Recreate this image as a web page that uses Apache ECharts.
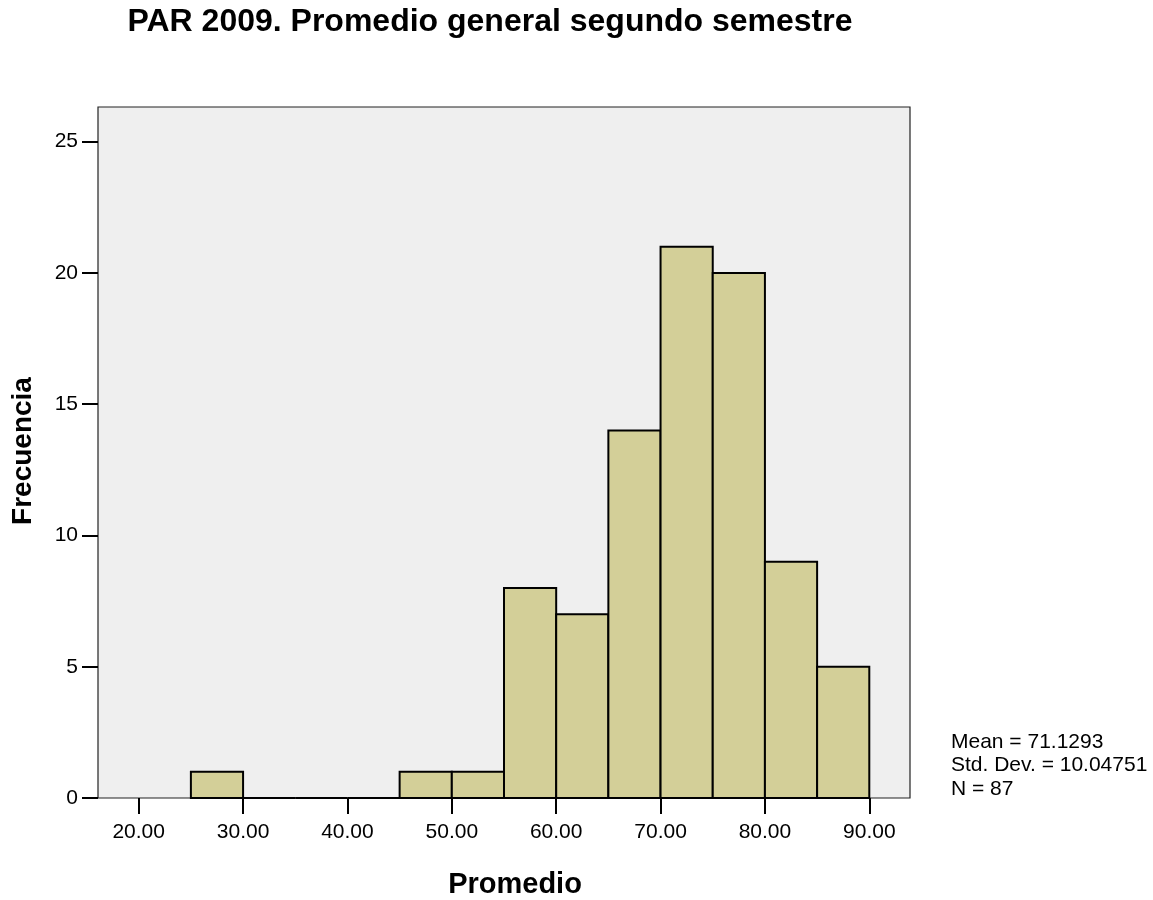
<!DOCTYPE html>
<html><head><meta charset="utf-8">
<script src="https://cdn.jsdelivr.net/npm/echarts@6/dist/echarts.min.js"></script>
<style>html,body{margin:0;padding:0;background:#fff}#c{width:1153px;height:900px}</style>
</head><body><div id="c"></div>
<script>
const binStarts = [25, 30, 35, 40, 45, 50, 55, 60, 65, 70, 75, 80, 85];
const binWidth = 5;
const counts = [1, 0, 0, 0, 1, 1, 8, 7, 14, 21, 20, 9, 5];
const xTicks = [20, 30, 40, 50, 60, 70, 80, 90];
const yTicks = [0, 5, 10, 15, 20, 25];
const statsLines = ['Mean = 71.1293', 'Std. Dev. = 10.04751', 'N = 87'];
const titleText = 'PAR 2009. Promedio general segundo semestre';

const FONT = 'Liberation Sans, Arial, sans-serif';
const chart = echarts.init(document.getElementById('c'), null, {renderer: 'canvas'});
const data = binStarts.map((s, i) => [s, s + binWidth, counts[i]]);

chart.setOption({
  animation: false,
  textStyle: {fontFamily: FONT},
  grid: {left: 98, top: 107, width: 812, height: 691, show: true,
         backgroundColor: '#efefef', borderColor: '#222', borderWidth: 1.2},
  xAxis: {
    type: 'value', min: 16.1, max: 93.9,
    splitLine: {show: false},
    axisLine: {show: false},
    axisTick: {show: true, length: 16, customValues: xTicks, lineStyle: {color: '#000', width: 2}},
    axisLabel: {customValues: xTicks, formatter: v => v.toFixed(2), fontSize: 21, color: '#000', margin: 24, fontFamily: FONT}
  },
  yAxis: {
    type: 'value', min: 0, max: 26.32,
    splitLine: {show: false},
    axisLine: {show: false},
    axisTick: {show: true, length: 16, customValues: yTicks, lineStyle: {color: '#000', width: 2}},
    axisLabel: {customValues: yTicks, fontSize: 21, color: '#000', margin: 20, fontFamily: FONT}
  },
  series: [{
    type: 'custom',
    data: data,
    renderItem: function (params, api) {
      const p0 = api.coord([api.value(0), api.value(2)]);
      const p1 = api.coord([api.value(1), 0]);
      return {
        type: 'rect',
        shape: {x: p0[0], y: p0[1], width: p1[0] - p0[0], height: p1[1] - p0[1]},
        style: {fill: '#d3cf98', stroke: '#000', lineWidth: 2}
      };
    },
    encode: {x: [0, 1], y: 2}
  }],
  graphic: [
    {type: 'text', x: 490, y: 22, style: {text: titleText, font: 'bold 32px ' + FONT, fill: '#000', align: 'center', verticalAlign: 'middle'}},
    {type: 'text', x: 515, y: 885, style: {text: 'Promedio', font: 'bold 29px ' + FONT, fill: '#000', align: 'center', verticalAlign: 'middle'}},
    {type: 'text', x: 23, y: 451, rotation: Math.PI / 2, style: {text: 'Frecuencia', font: 'bold 28px ' + FONT, fill: '#000', align: 'center', verticalAlign: 'middle'}},
    {type: 'text', x: 951, y: 730, style: {text: statsLines.join('\n'), font: '21px ' + FONT, fill: '#000', lineHeight: 23.5}}
  ]
});
</script></body></html>
